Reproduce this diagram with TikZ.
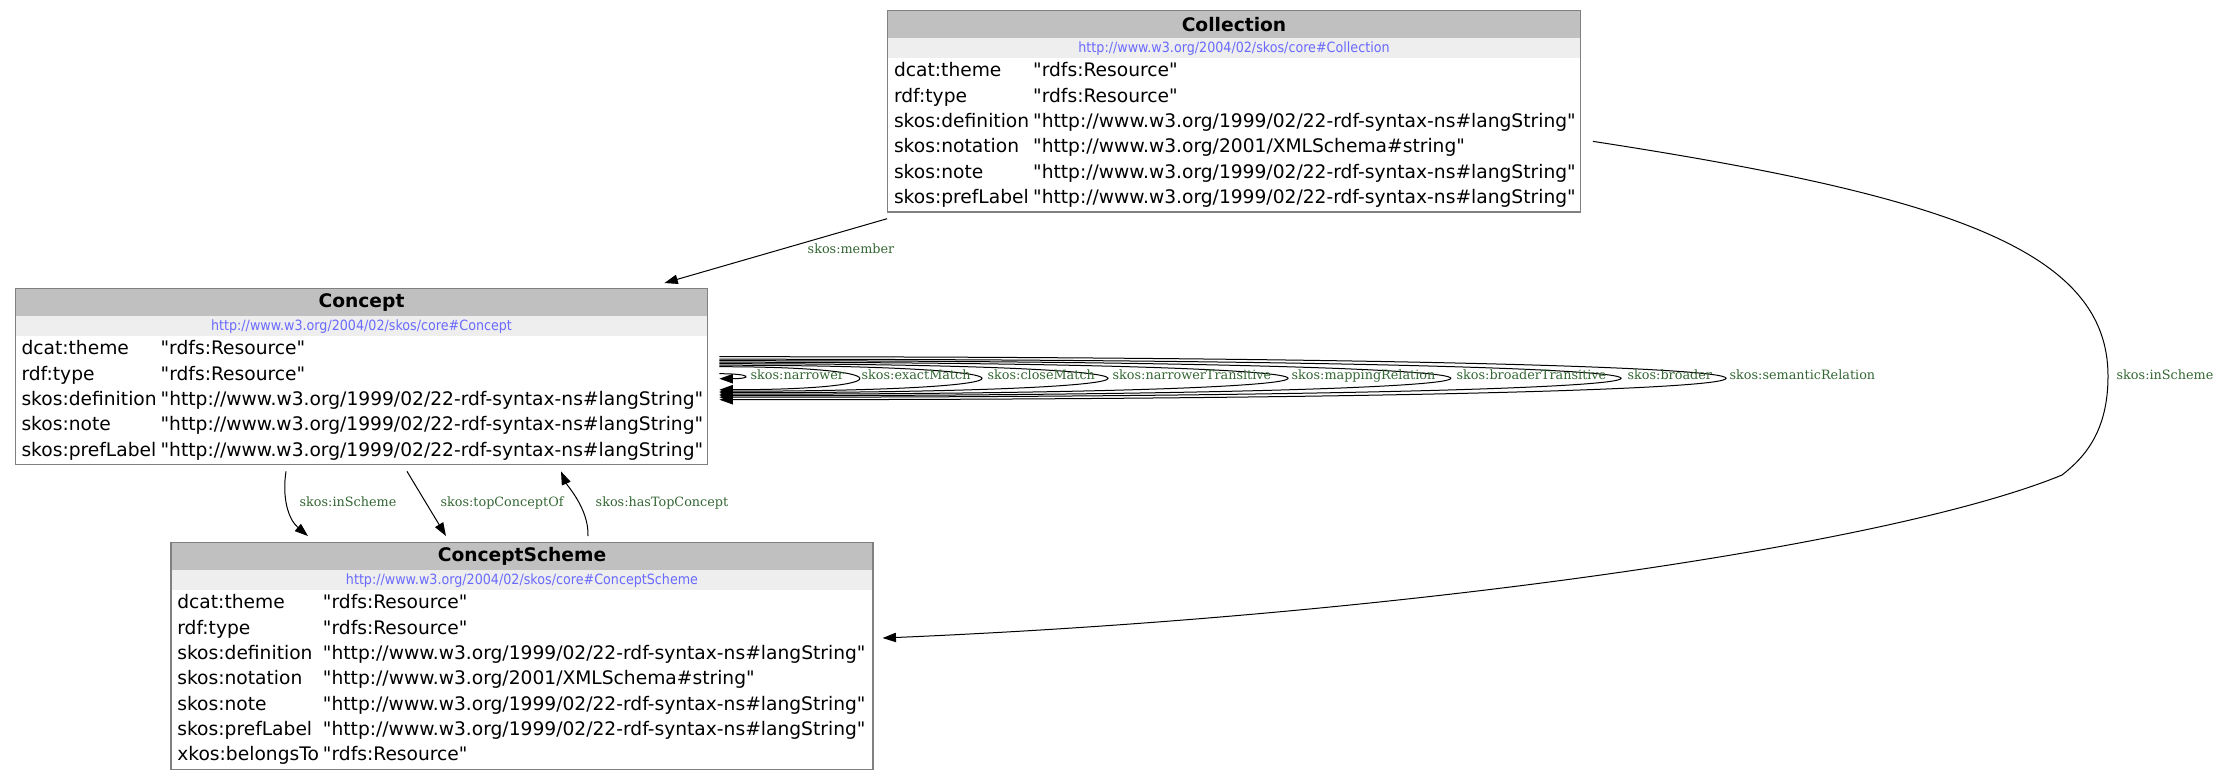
\documentclass[tikz,border=0pt]{standalone}
\usepackage{fontspec}
\setmainfont{DejaVu Sans}
\newfontfamily\edgefamily{DejaVu Serif}
\newfontfamily\urlfamily[FakeStretch=0.9]{DejaVu Sans}
\usetikzlibrary{positioning,fit,calc,arrows.meta}

\definecolor{headgray}{HTML}{C0C0C0}
\definecolor{urlgray}{HTML}{EEEEEE}
\definecolor{framegray}{HTML}{808080}
\definecolor{urlblue}{HTML}{6A6AFF}
\definecolor{labelgreen}{HTML}{336633}

\newcommand{\classrowfont}{\fontsize{14pt}{19pt}\selectfont}
\newcommand{\classtitlefont}{\bfseries\fontsize{14pt}{17pt}\selectfont}
\newcommand{\classurlfont}{\urlfamily\fontsize{10.6pt}{12pt}\selectfont}
\newcommand{\edgelabelfont}{\edgefamily\fontsize{9.6pt}{11pt}\selectfont}
\newcommand{\qt}[1]{\textquotedbl#1\textquotedbl}
\newcommand{\langstr}{\qt{http://www.w3.org/1999/02/22-rdf-syntax-ns\#langString}}
\newcommand{\resstr}{\qt{rdfs:Resource}}

\tikzstyle{classtitle} = [rectangle, fill=headgray, font=\classtitlefont, minimum height=20pt, inner sep=0pt]
\tikzstyle{classurl} = [rectangle, fill=urlgray, text=urlblue, font=\classurlfont, minimum height=15pt, inner sep=0pt]
\tikzstyle{classrows} = [rectangle, font=\classrowfont, align=left, inner xsep=4.5pt, inner ysep=0.4pt]
\tikzstyle{classframe} = [rectangle, draw=framegray, line width=1pt, inner sep=0pt]
\tikzstyle{edgelabel} = [text=labelgreen, font=\edgelabelfont, text height=7pt, text depth=2pt, inner sep=1pt]
\tikzstyle{line} = [draw, line width=0.75pt, -{Triangle[length=10pt, width=7pt]}]

\begin{document}
\begin{tikzpicture}[x=0.75pt, y=-0.75pt]
		\useasboundingbox (0,0) rectangle (2229,779);

		% Collection
		\node [classtitle, minimum width=519pt] (collectionTitle) at (1234,24.3) {Collection};
		\node [classurl, minimum width=519pt, below=0pt of collectionTitle] (collectionUrl) {http://www.w3.org/2004/02/skos/core\#Collection};
		\node [classrows, text width=510pt, below=0pt of collectionUrl] (collectionRows) {%
			\begin{tabular}{@{}l@{\hspace{3pt}}l@{}}
				dcat:theme & \resstr \\
				rdf:type & \resstr \\
				skos:definition & \langstr \\
				skos:notation & \qt{http://www.w3.org/2001/XMLSchema\#string} \\
				skos:note & \langstr \\
				skos:prefLabel & \langstr
			\end{tabular}};
		\node [classframe, fit=(collectionTitle)(collectionRows)] (collection) {};

		% Concept
		\node [classtitle, minimum width=519pt] (conceptTitle) at (361.5,302.3) {Concept};
		\node [classurl, minimum width=519pt, below=0pt of conceptTitle] (conceptUrl) {http://www.w3.org/2004/02/skos/core\#Concept};
		\node [classrows, text width=510pt, below=0pt of conceptUrl] (conceptRows) {%
			\begin{tabular}{@{}l@{\hspace{3pt}}l@{}}
				dcat:theme & \resstr \\
				rdf:type & \resstr \\
				skos:definition & \langstr \\
				skos:note & \langstr \\
				skos:prefLabel & \langstr
			\end{tabular}};
		\node [classframe, fit=(conceptTitle)(conceptRows)] (concept) {};

		% ConceptScheme
		\node [classtitle, minimum width=526pt] (schemeTitle) at (522,556.3) {ConceptScheme};
		\node [classurl, minimum width=526pt, below=0pt of schemeTitle] (schemeUrl) {http://www.w3.org/2004/02/skos/core\#ConceptScheme};
		\node [classrows, text width=517pt, below=0pt of schemeUrl] (schemeRows) {%
			\begin{tabular}{@{}l@{\hspace{3pt}}l@{}}
				dcat:theme & \resstr \\
				rdf:type & \resstr \\
				skos:definition & \langstr \\
				skos:notation & \qt{http://www.w3.org/2001/XMLSchema\#string} \\
				skos:note & \langstr \\
				skos:prefLabel & \langstr \\
				xkos:belongsTo & \resstr
			\end{tabular}};
		\node [classframe, fit=(schemeTitle)(schemeRows)] (conceptscheme) {};

		% edges between the classes
		\path [line] ($(collection.south west)+(0,6)$) -- ($(concept.north east)+(-44,-5)$);
		\path [line] ($(concept.south)+(-75.5,6)$) .. controls +(-4,26) and +(-20,-17) .. ($(conceptscheme.north)+(-214,-6)$);
		\path [line] ($(concept.south)+(45.5,6)$) -- ($(conceptscheme.north)+(-76,-6)$);
		\path [line] ($(conceptscheme.north)+(66,-6)$) .. controls +(1,-27) and +(6,14) .. ($(concept.south)+(199.5,6)$);
		\coordinate (schemeBend) at (2108,376);
		\path [line] ($(collection.east)+(12,30)$) .. controls +(358,55) and +(0,-125) .. (schemeBend)
			.. controls +(0,55) and +(23,-18) .. ++(-46,99)
			.. controls +(-170,70) and +(519,-22) .. ($(conceptscheme.east)+(9,-18)$);

		\node [edgelabel] (memberLabel) at (851,250) {skos:member};
		\node [edgelabel] (inSchemeLabel) at (348,503) {skos:inScheme};
		\node [edgelabel] (topConceptOfLabel) at (502,503) {skos:topConceptOf};
		\node [edgelabel] (hasTopConceptLabel) at (662,503) {skos:hasTopConcept};
		\node [edgelabel] (collectionInSchemeLabel) at (2165,376) {skos:inScheme};

		% self loops on Concept
		\path [line] ($(concept.east)+(11,-3)$) .. controls +(33,0) and +(33,0) .. ($(concept.east)+(11,2)$);
		\path [line] ($(concept.east)+(11,-10)$) .. controls +(185,0) and +(185,0) .. ($(concept.east)+(11,13)$);
		\path [line] ($(concept.east)+(11,-11.5)$) .. controls +(348,0) and +(348,0) .. ($(concept.east)+(11,14.5)$);
		\path [line] ($(concept.east)+(11,-13)$) .. controls +(516,0) and +(516,0) .. ($(concept.east)+(11,16)$);
		\path [line] ($(concept.east)+(11,-14.5)$) .. controls +(756,0) and +(756,0) .. ($(concept.east)+(11,17.5)$);
		\path [line] ($(concept.east)+(11,-16)$) .. controls +(973,0) and +(973,0) .. ($(concept.east)+(11,19)$);
		\path [line] ($(concept.east)+(11,-17.5)$) .. controls +(1200,0) and +(1200,0) .. ($(concept.east)+(11,20.5)$);
		\path [line] ($(concept.east)+(11,-20)$) .. controls +(1340,0) and +(1340,0) .. ($(concept.east)+(11,23)$);

		\node [edgelabel, anchor=west] (narrowerLabel) at (749,376) {skos:narrower};
		\node [edgelabel, anchor=west] (exactMatchLabel) at (860,376) {skos:exactMatch};
		\node [edgelabel, anchor=west] (closeMatchLabel) at (986,376) {skos:closeMatch};
		\node [edgelabel, anchor=west] (narrowerTransitiveLabel) at (1111,376) {skos:narrowerTransitive};
		\node [edgelabel, anchor=west] (mappingRelationLabel) at (1290,376) {skos:mappingRelation};
		\node [edgelabel, anchor=west] (broaderTransitiveLabel) at (1455,376) {skos:broaderTransitive};
		\node [edgelabel, anchor=west] (broaderLabel) at (1626,376) {skos:broader};
		\node [edgelabel, anchor=west] (semanticRelationLabel) at (1728,376) {skos:semanticRelation};
	\end{tikzpicture}
\end{document}
